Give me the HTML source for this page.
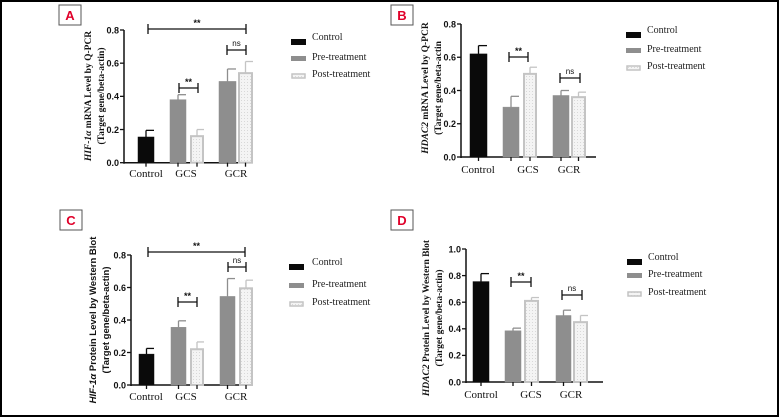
<!DOCTYPE html>
<html><head><meta charset="utf-8">
<style>
html,body{margin:0;padding:0;background:#fff;}
svg{display:block;}
.tick{font-family:"Liberation Sans",sans-serif;font-weight:bold;font-size:9px;fill:#111;}
.cat{font-family:"Liberation Serif",serif;font-size:11px;fill:#111;}
.leg{font-family:"Liberation Serif",serif;font-size:10px;fill:#222;}
.yl{font-family:"Liberation Serif",serif;font-weight:bold;font-size:9.5px;fill:#111;}
.yls{font-family:"Liberation Sans",sans-serif;font-weight:bold;font-size:9.5px;fill:#111;}
.sig{font-family:"Liberation Sans",sans-serif;font-weight:bold;font-size:9px;fill:#111;}
.ns{font-family:"Liberation Sans",sans-serif;font-size:8px;fill:#111;}
.pl{font-family:"Liberation Sans",sans-serif;font-weight:bold;font-size:13px;fill:#e0002a;}
</style></head>
<body>
<svg id="fig" width="780" height="418" viewBox="0 0 780 418" xmlns="http://www.w3.org/2000/svg">
<defs>
<pattern id="dots" width="3" height="3" patternUnits="userSpaceOnUse"><rect width="3" height="3" fill="#f4f4f4"/><rect x="1" y="1" width="1" height="1" fill="#d8d8d8"/></pattern>
</defs>
<rect x="1" y="1" width="777" height="415" fill="none" stroke="#000" stroke-width="2"/>
</svg>
<script>
// Panel A values: Control, GCS pre, GCS post, GCR pre, GCR post
const aValues=[0.155,0.38,0.16,0.49,0.54];
const aErrors=[0.04,0.03,0.04,0.075,0.07];
const bValues=[0.62,0.30,0.50,0.37,0.36];
const bErrors=[0.05,0.065,0.04,0.03,0.03];
const cValues=[0.19,0.355,0.22,0.545,0.595];
const cErrors=[0.035,0.04,0.045,0.11,0.05];
const dValues=[0.755,0.385,0.61,0.50,0.45];
const dErrors=[0.06,0.02,0.025,0.04,0.05];
const abcTicks=["0.0","0.2","0.4","0.6","0.8"];
const dTicks=["0.0","0.2","0.4","0.6","0.8","1.0"];
const categories=["Control","GCS","GCR"];
const legendLabels=["Control","Pre-treatment","Post-treatment"];

const NS="http://www.w3.org/2000/svg";
const svg=document.getElementById('fig');
function mk(tag,attrs,parent,text){const e=document.createElementNS(NS,tag);for(const k in attrs)e.setAttribute(k,attrs[k]);if(text!==undefined)e.textContent=text;(parent||svg).appendChild(e);return e;}

const panels=[
 {id:'a',letter:'A',lx:59,ly:5,vals:aValues,errs:aErrors,ticks:abcTicks,max:0.8,ax:124,y0:162.7,ytop:30,xend:253,
  bx:[138,170,190,219,238],bw:[16,16,14,17,15],catx:[146,186,236],caty:177,
  brackets:[[148,246,29,'**'],[227,246,50,'ns'],[179,198,88,'**']],
  legx:291,legtx:312,legy:[42,59,76],
  ylab:[['HIF-1α',' mRNA Level by Q-PCR'],['(Target gene/beta-actin)']],ylx:[87,100],ylc:96,ylSans:false},
 {id:'b',letter:'B',lx:391,ly:5,vals:bValues,errs:bErrors,ticks:abcTicks,max:0.8,ax:461,y0:157,ytop:24,xend:596,
  bx:[470,503,523,553,571],bw:[17,16,14,16,15],catx:[478,528,569],caty:173,
  brackets:[[509,528,57,'**'],[560,580,78,'ns']],
  legx:626,legtx:647,legy:[35,51,68],
  ylab:[['HDAC2',' mRNA Level by Q-PCR'],['(Target gene/beta-actin']],ylx:[424,437],ylc:88,ylSans:false},
 {id:'c',letter:'C',lx:60,ly:210,vals:cValues,errs:cErrors,ticks:abcTicks,max:0.8,ax:131,y0:385,ytop:255,xend:253,
  bx:[139,171,190,220,239],bw:[15,15,14,15,14],catx:[146,186,236],caty:400,
  brackets:[[148,245,252,'**'],[228,246,267,'ns'],[178,197,302,'**']],
  legx:289,legtx:312,legy:[267,286,304],
  ylab:[['HIF-1α',' Protein Level by Western Blot'],['(Target gene/beta-actin)']],ylx:[92,105],ylc:320,ylSans:true},
 {id:'d',letter:'D',lx:391,ly:210,vals:dValues,errs:dErrors,ticks:dTicks,max:1.0,ax:466,y0:382,ytop:249,xend:603,
  bx:[473,505,524,556,573],bw:[16,16,15,15,15],catx:[481,531,571],caty:398,
  brackets:[[511,531,282,'**'],[562,582,295,'ns']],
  legx:627,legtx:648,legy:[262,276,294],
  ylab:[['HDAC2',' Protein Level by Western Blot'],['(Target gene/beta-actin)']],ylx:[425,438],ylc:318,ylSans:false}
];
const fills=['#0a0a0a','#8e8e8e','url(#dots)'];
const strokes=['#0a0a0a','#8e8e8e','#c4c4c4'];
const series=[0,1,2,1,2];

panels.forEach(p=>{
 const g=mk('g',{});
 
 
 const y=v=>p.y0-(v/p.max)*(p.y0-p.ytop);
 const lb=mk('rect',{x:p.lx,y:p.ly,width:22,height:20,fill:'#fff',stroke:'#555','stroke-width':1},g);
 
 
 const lt=mk('text',{x:p.lx+11,y:p.ly+15,'text-anchor':'middle',class:'pl'},g,p.letter);
 
 
 const ya=mk('line',{x1:p.ax,x2:p.ax,y1:p.ytop,y2:p.y0+1,stroke:'#111','stroke-width':1.5},g);
 
 
 const xa=mk('line',{x1:p.ax,x2:p.xend,y1:p.y0,y2:p.y0,stroke:'#111','stroke-width':1.5},g);
 
 
 p.ticks.forEach((t,i)=>{
  const v=i*p.max/(p.ticks.length-1);
  mk('line',{x1:p.ax-4,x2:p.ax,y1:y(v),y2:y(v),stroke:'#111','stroke-width':1.3},g);
  const tl=mk('text',{x:p.ax-5,y:y(v)+3.3,'text-anchor':'end',class:'tick'},g,t);
  
  
 });
 p.vals.forEach((v,i)=>{
  const s=series[i];const x=p.bx[i],w=p.bw[i];const cx=x+w/2;
  const top=y(v+p.errs[i]);
  mk('line',{x1:cx,x2:cx,y1:top,y2:y(v),stroke:strokes[s],'stroke-width':1.3},g);
  mk('line',{x1:cx,x2:cx+w/2,y1:top,y2:top,stroke:strokes[s],'stroke-width':1.3},g);
  const r=mk('rect',{x:x+(s==2?1:0),y:y(v),width:w-(s==2?2:0),height:p.y0-y(v),fill:fills[s],stroke:strokes[s],'stroke-width':s==2?2:0.5},g);
  
  
  mk('line',{x1:cx,x2:cx,y1:p.y0,y2:p.y0+4,stroke:'#111','stroke-width':1.3},g);
 });
 categories.forEach((c,i)=>{
  const t=mk('text',{x:p.catx[i],y:p.caty,'text-anchor':'middle',class:'cat'},g,c);
  
  
 });
 p.brackets.forEach(b=>{
  const bg=mk('g',{},g);
  
  
  mk('line',{x1:b[0],x2:b[1],y1:b[2],y2:b[2],stroke:'#111','stroke-width':1.3},bg);
  mk('line',{x1:b[0],x2:b[0],y1:b[2]-5,y2:b[2]+5,stroke:'#111','stroke-width':1.3},bg);
  mk('line',{x1:b[1],x2:b[1],y1:b[2]-5,y2:b[2]+5,stroke:'#111','stroke-width':1.3},bg);
  mk('text',{x:(b[0]+b[1])/2,y:b[2]-(b[3]=='**'?3:4),'text-anchor':'middle',class:b[3]=='**'?'sig':'ns'},bg,b[3]);
 });
 legendLabels.forEach((l,i)=>{
  const lg=mk('g',{},g);
  
  
  mk('rect',{x:p.legx+(i==2?1:0),y:p.legy[i]-3+(i==2?1:0),width:15-(i==2?2:0),height:i==0?6:5-(i==2?1:0),fill:fills[i],stroke:strokes[i],'stroke-width':i==2?1.5:0},lg);
  mk('text',{x:p.legtx,y:p.legy[i]+(i==0?-2:1),class:'leg'},lg,l);
 });
 const yg=mk('g',{transform:'rotate(-90)'},g);
 
 
 p.ylab.forEach((line,li)=>{
  const t=mk('text',{x:-p.ylc,y:p.ylx[li]+4,'text-anchor':'middle',class:p.ylSans?'yls':'yl'},yg);
  if(line.length==2){mk('tspan',{'font-style':'italic'},t,line[0]);mk('tspan',{},t,line[1]);}
  else t.textContent=line[0];
 });
});
</script>
</body></html>
